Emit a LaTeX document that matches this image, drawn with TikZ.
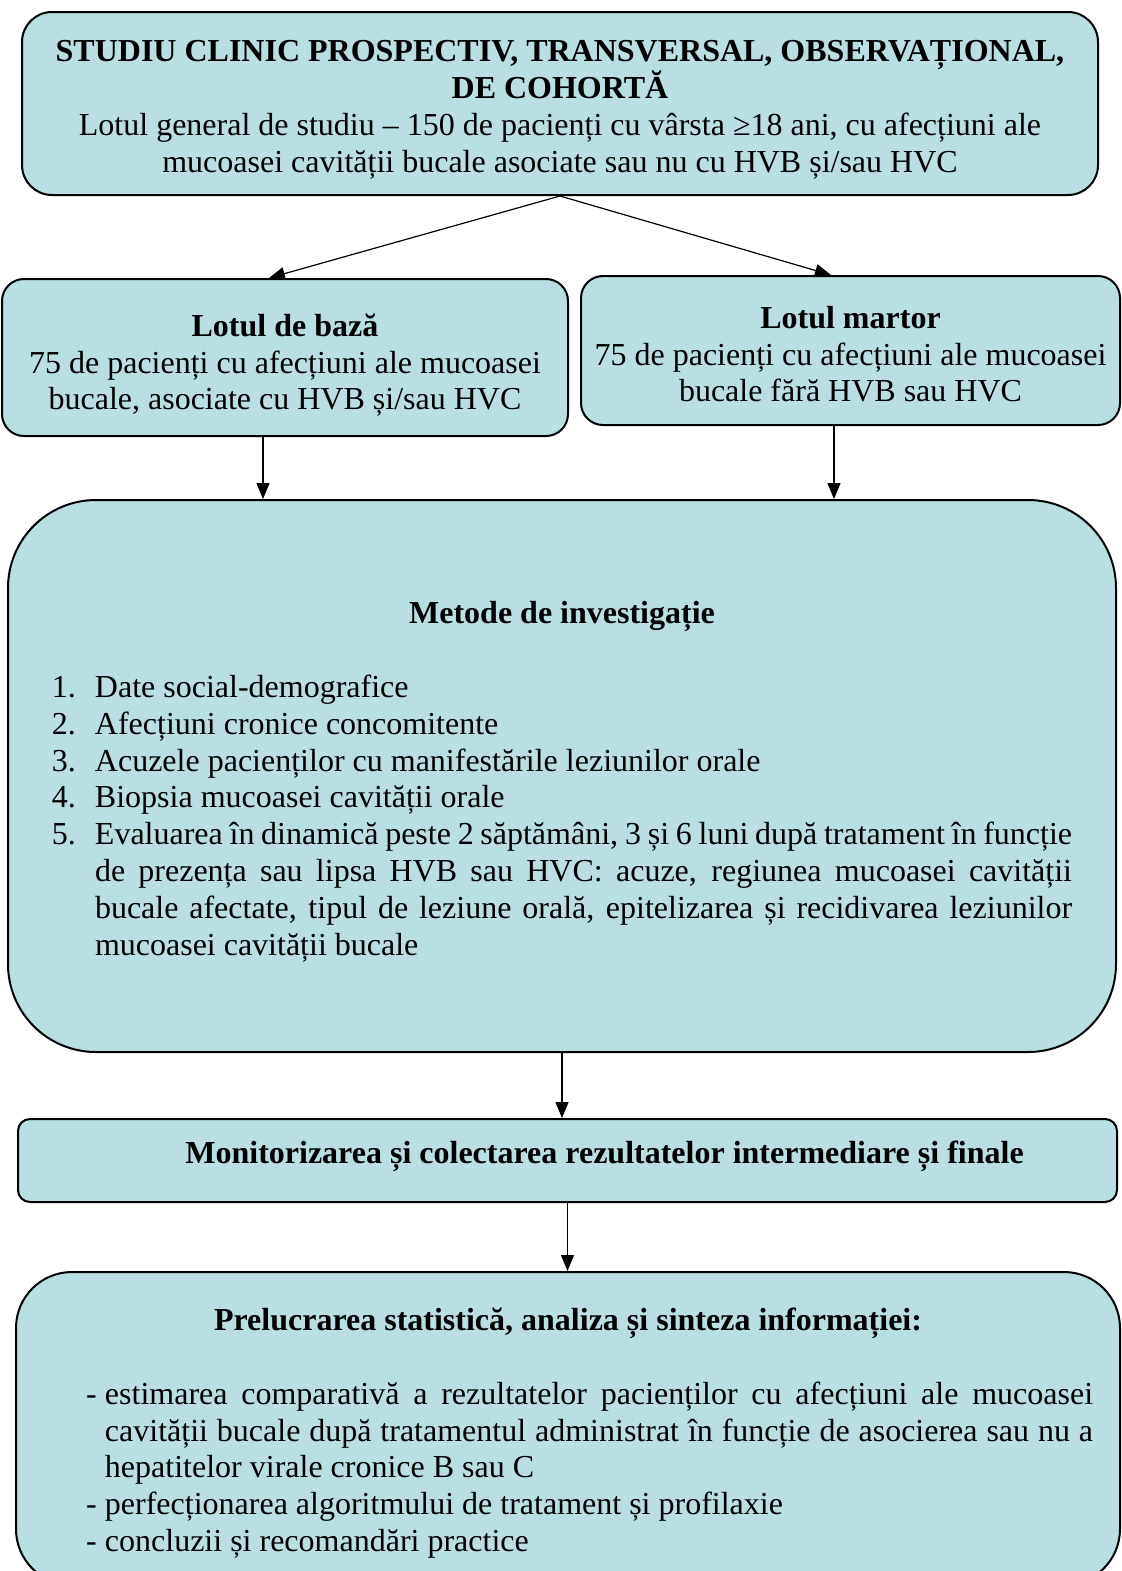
\documentclass[tikz,border=0pt]{standalone}
\usepackage{fontspec}
\setmainfont{Liberation Serif}
\usetikzlibrary{arrows.meta,positioning}
\definecolor{boxcyan}{RGB}{185,223,227}
\newcommand{\numitem}[2]{\par\noindent\hangindent=21.5pt\hangafter=1\makebox[21.5pt][l]{#1}#2}
\newcommand{\dashitem}[1]{\par\noindent\hangindent=9.5pt\hangafter=1\makebox[9.5pt][l]{-}#1}
\newcommand{\topstrut}[1]{\rule{0pt}{#1}}

\begin{document}
\begin{tikzpicture}[x=0.5pt,y=-0.5pt,
  box/.style={draw=black,line width=1pt,fill=boxcyan,inner sep=0pt,
    font=\fontsize{16pt}{18.4pt}\selectfont},
  arr/.style={-{Triangle[length=8pt,width=6.5pt]},line width=0.6pt}
]
\useasboundingbox (0,0) rectangle (1122,1571);
\node[box,align=center,minimum width=538pt,minimum height=91.5pt,rounded corners=15pt] (studiu) at (560,103.5)
  {\topstrut{17pt}\textbf{STUDIU CLINIC PROSPECTIV, TRANSVERSAL, OBSERVAȚIONAL,}\\
   \textbf{DE COHORTĂ}\\
   Lotul general de studiu – 150 de pacienți cu vârsta ≥18 ani, cu afecțiuni ale\\
   mucoasei cavității bucale asociate sau nu cu HVB și/sau HVC};
\node[box,align=center,minimum width=283pt,minimum height=78.5pt,rounded corners=11pt] (baza) at (285,357.5)
  {\topstrut{18.9pt}\textbf{Lotul de bază}\\75 de pacienți cu afecțiuni ale mucoasei\\bucale, asociate cu HVB și/sau HVC};
\node[box,align=center,minimum width=269.5pt,minimum height=74.5pt,rounded corners=11pt] (martor) at (850.5,350.5)
  {\topstrut{14.9pt}\textbf{Lotul martor}\\75 de pacienți cu afecțiuni ale mucoasei\\bucale fără HVB sau HVC};
\node[box,align=justify,text width=510pt,minimum width=554pt,minimum height=276pt,rounded corners=44pt] (metode) at (562,776)
  {{\centering\topstrut{16.9pt}\bfseries Metode de investigație\par}
   \vspace{18.4pt}
   \numitem{1.}{Date social-demografice}
   \numitem{2.}{Afecțiuni cronice concomitente}
   \numitem{3.}{Acuzele pacienților cu manifestările leziunilor orale}
   \numitem{4.}{Biopsia mucoasei cavității orale}
   \numitem{5.}{Evaluarea în dinamică peste 2 săptămâni, 3 și 6 luni după tratament în funcție\linebreak
     de prezența sau lipsa HVB sau HVC: acuze, regiunea mucoasei cavității\linebreak
     bucale afectate, tipul de leziune orală, epitelizarea și recidivarea leziunilor\linebreak
     mucoasei cavității bucale}\par};
\node[box,minimum width=549.5pt,minimum height=41.5pt,rounded corners=6pt,text depth=8pt] (monitor) at (567.5,1160.5)
  {\hspace*{37pt}\textbf{Monitorizarea și colectarea rezultatelor intermediare și finale}};
\node[box,align=justify,text width=525pt,minimum width=552pt,minimum height=156.5pt,rounded corners=28pt] (sinteza) at (568,1428.5)
  {{\centering\topstrut{15.9pt}\bfseries Prelucrarea statistică, analiza și sinteza informației:\par}
   \vspace{18.4pt}
   \leftskip=21.5pt
   \dashitem{estimarea comparativă a rezultatelor pacienților cu afecțiuni ale mucoasei\linebreak
     cavității bucale după tratamentul administrat în funcție de asocierea sau nu a\linebreak
     hepatitelor virale cronice B sau C}
   \dashitem{perfecționarea algoritmului de tratament și profilaxie}
   \dashitem{concluzii și recomandări practice}\par};
% connectors
\coordinate (bazaout) at ([xshift=-11pt]baza.south);
\coordinate (martorout) at ([xshift=-8.25pt]martor.south);
\draw[arr] (studiu.south) -- ([xshift=-8pt]baza.north);
\draw[arr] (studiu.south) -- ([xshift=-9.75pt]martor.north);
\draw[arr] (bazaout) -- (bazaout |- metode.north);
\draw[arr] (martorout) -- (martorout |- metode.north);
\draw[arr] (metode.south) -- (metode.south |- monitor.north);
\draw[arr] (monitor.south) -- (monitor.south |- sinteza.north);
\end{tikzpicture}
\end{document}
